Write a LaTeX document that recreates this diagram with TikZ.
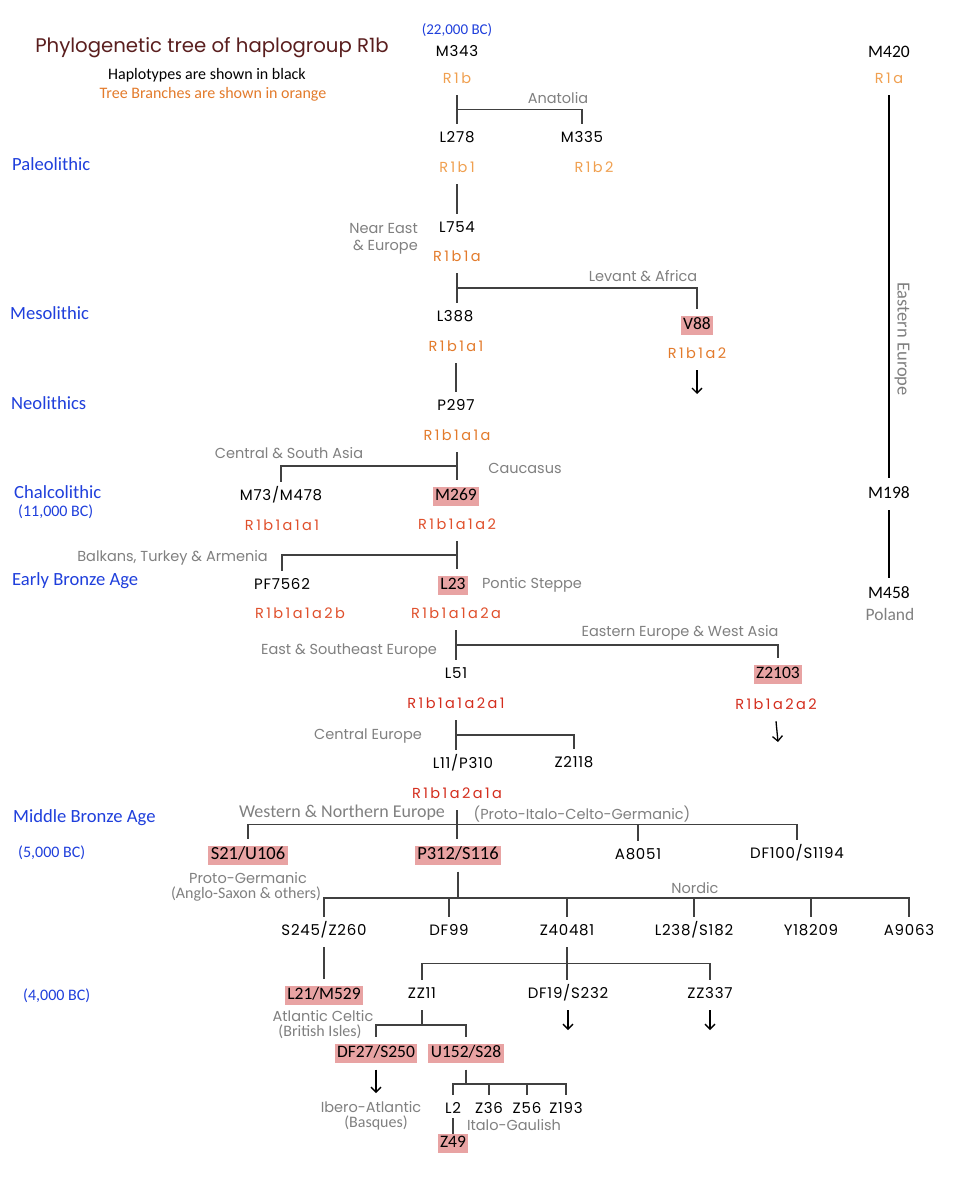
\documentclass[tikz,border=0pt]{standalone}
\usepackage{fontspec}
\setmainfont{Poppins}
\newfontfamily\calfont{Carlito}
\newfontfamily\gothfont{Poppins}
\newfontfamily\hapfont[LetterSpace=5]{Poppins}
\newfontfamily\branchfont[LetterSpace=17]{Poppins}
\usetikzlibrary{calc,arrows.meta}

\definecolor{heading}{HTML}{5A1E1E}
\definecolor{eraclr}{HTML}{1F3FDC}
\definecolor{orangeA}{HTML}{F0A050}
\definecolor{orangeB}{HTML}{E37B2C}
\definecolor{redA}{HTML}{E0502C}
\definecolor{redB}{HTML}{D42E1E}
\definecolor{regionclr}{HTML}{808080}
\definecolor{hilite}{HTML}{E8A3A3}
\definecolor{wire}{HTML}{404040}

\tikzset{
  hap/.style={font=\hapfont\fontsize{15}{17}\selectfont, text height=10pt, text depth=2.5pt, inner sep=1pt, outer sep=8pt},
  brn/.style={hap, font=\branchfont\fontsize{14.5}{17}\selectfont, text=orangeB},
  calhap/.style={hap, font=\calfont\fontsize{17.5}{19}\selectfont, text height=11.5pt, text depth=3pt},
  snp/.style={font=\calfont\fontsize{17.5}{19}\selectfont, fill=hilite, text height=11.5pt, text depth=3.5pt, inner xsep=2.5pt, inner ysep=2pt, outer sep=7pt},
  region/.style={font=\gothfont\fontsize{14.5}{17}\selectfont, text=regionclr, inner sep=1pt},
  regcal/.style={region, font=\calfont\fontsize{16}{18}\selectfont},
  era/.style={font=\calfont\fontsize{18.6}{20}\selectfont, text=eraclr, anchor=west, inner sep=0pt},
  date/.style={era, font=\calfont\fontsize{16}{18}\selectfont},
  keytext/.style={font=\calfont\fontsize{16}{18}\selectfont, inner sep=0pt},
  link/.style={draw=wire, line width=1.3pt},
  eline/.style={draw=black, line width=1.8pt},
  down/.style={draw=black, line width=1.3pt, -{Straight Barb[length=5pt,width=10pt]}},
}

\begin{document}
\begin{tikzpicture}[x=1pt,y=-1pt]
\fill[white] (0,0) rectangle (960,1190);
\useasboundingbox (0,0) rectangle (960,1190);

% heading and key
\node[font=\gothfont\fontsize{19.7}{22}\selectfont, text=heading] (head) at (212,48) {Phylogenetic tree of haplogroup R1b};
\node[keytext] (keyhap) at (207,75) {Haplotypes are shown in black};
\node[keytext, text=orangeB] (keybrn) at (213,94) {Tree Branches are shown in orange};

% periods
\node[era] (paleo) at (12,164) {Paleolithic};
\node[era] (meso) at (10,313) {Mesolithic};
\node[era] (neo) at (11,403) {Neolithics};
\node[era] (chalco) at (14,492) {Chalcolithic};
\node[date] (bc11) at (18,512) {(11,000 BC)};
\node[era] (eba) at (12,581) {Early Bronze Age};
\node[era] (mba) at (13,818) {Middle Bronze Age};
\node[date] (bc5) at (18,853) {(5,000 BC)};
\node[date] (bc4) at (23,996) {(4,000 BC)};

% R1b down to P297
\node[date, anchor=center, font=\calfont\fontsize{15}{17}\selectfont] (bc22) at (457,30) {(22,000 BC)};
\node[hap] (m343) at (457,53) {M343};
\node[brn, text=orangeA] (r1b) at (457,80) {R1b};
\node[region] (anat) at (558,98) {Anatolia};
\node[hap] (l278) at (457,139) {L278};
\node[hap] (m335) at (582,139) {M335};
\node[brn, text=orangeA] (r1b1) at (457,169) {R1b1};
\node[brn, text=orangeA] (r1b2) at (594,169) {R1b2};
\node[region, anchor=east, align=right] (neareu) at (419,239) {Near East\\\& Europe};
\node[hap] (l754) at (457,229) {L754};
\node[brn] (r1b1a) at (457,258) {R1b1a};
\node[region] (levant) at (643,276) {Levant \& Africa};
\node[hap] (l388) at (455,318) {L388};
\node[snp] (v88) at (697,325) {V88};
\node[brn] (r1b1a1) at (456,348) {R1b1a1};
\node[brn] (r1b1a2) at (697,355) {R1b1a2};
\coordinate (v88end) at (697,394);
\node[hap] (p297) at (456,407) {P297};

% M269 and L23
\node[brn] (r1b1a1a) at (457,437) {R1b1a1a};
\node[region] (asia) at (289,453) {Central \& South Asia};
\node[region] (caucasus) at (525,468) {Caucasus};
\node[hap] (m73) at (281,497) {M73/M478};
\node[snp] (m269) at (456,496) {M269};
\node[brn, text=redA] (r1b1a1a1) at (282,527) {R1b1a1a1};
\node[brn, text=redA] (r1b1a1a2) at (457,526) {R1b1a1a2};
\node[region, anchor=east] (balkans) at (269,558) {Balkans, Turkey \& Armenia};
\node[hap] (pf7562) at (282,586) {PF7562};
\node[snp] (l23) at (453,585) {L23};
\node[region] (pontic) at (532,585) {Pontic Steppe};
\node[brn, text=redA] (r1b1a1a2b) at (300,615) {R1b1a1a2b};
\node[brn, text=redA] (r1b1a1a2a) at (456,615) {R1b1a1a2a};

% L51 and Z2103
\node[region] (eeasia) at (680,633) {Eastern Europe \& West Asia};
\node[region] (esee) at (349,651) {East \& Southeast Europe};
\node[hap] (l51) at (456,675) {L51};
\node[snp] (z2103) at (778,674) {Z2103};
\node[brn, text=redB] (r1b1a1a2a1) at (456,705) {R1b1a1a2a1};
\node[brn, text=redB] (r1b1a2a2) at (776,706) {R1b1a2a2};
\coordinate (z2103end) at (778,742);
\node[region] (centeu) at (368,736) {Central Europe};
\node[hap] (l11) at (463,765) {L11/P310};
\node[hap] (z2118) at (574,764) {Z2118};

% P312 and U106
\node[brn, text=redB] (r1b1a2a1a) at (457,795) {R1b1a2a1a};
\node[regcal, font=\calfont\fontsize{18}{20}\selectfont] (wne) at (342,813) {Western \& Northern Europe};
\node[region] (pitc) at (582,814) {(Proto-Italo-Celto-Germanic)};
\node[snp, font=\calfont\fontsize{18.5}{20}\selectfont] (s21) at (248,855) {S21/U106};
\node[snp, font=\calfont\fontsize{18.5}{20}\selectfont] (p312) at (458,855) {P312/S116};
\node[hap] (a8051) at (638,856) {A8051};
\node[hap] (df100) at (797,855) {DF100/S1194};
\node[region] (protog) at (248,878) {Proto-Germanic};
\node[regcal] (anglo) at (246,894) {(Anglo-Saxon \& others)};
\node[region] (nordic) at (695,888) {Nordic};
\node[hap] (s245) at (324,932) {S245/Z260};
\node[hap] (df99) at (449,932) {DF99};
\node[hap] (z40481) at (567,932) {Z40481};
\node[hap] (l238) at (694,932) {L238/S182};
\node[hap] (y18209) at (811,932) {Y18209};
\node[hap] (a9063) at (909,932) {A9063};

% L21, ZZ11 and U152
\node[snp] (l21) at (324,995) {L21/M529};
\node[region] (atlantic) at (323,1016) {Atlantic Celtic};
\node[regcal] (british) at (320,1032) {(British Isles)};
\node[hap] (zz11) at (422,995) {ZZ11};
\node[hap] (df19) at (568,995) {DF19/S232};
\node[hap] (zz337) at (710,995) {ZZ337};
\coordinate (df19end) at (568,1030);
\coordinate (zz337end) at (710,1030);
\node[snp] (df27) at (376,1053) {DF27/S250};
\node[snp] (u152) at (466,1053) {U152/S28};
\coordinate (df27end) at (376,1093);
\node[region] (ibero) at (371,1107) {Ibero-Atlantic};
\node[regcal] (basques) at (376,1123) {(Basques)};
\node[hap] (l2) at (453,1110) {L2};
\node[hap] (z36) at (489,1110) {Z36};
\node[hap] (z56) at (527,1110) {Z56};
\node[hap] (z193) at (566,1110) {Z193};
\node[region] (italo) at (514,1125) {Italo-Gaulish};
\node[snp, outer sep=0pt] (z49) at (453,1143) {Z49};

% R1a column
\node[calhap] (m420) at (889,53) {M420};
\node[brn, text=orangeA] (r1a) at (889,80) {R1a};
\node[regcal, rotate=-90, font=\calfont\fontsize{18.5}{20}\selectfont] (eastlab) at (902,339) {Eastern Europe};
\node[calhap] (m198) at (889,494) {M198};
\node[calhap] (m458) at (889,594) {M458};
\node[regcal, font=\calfont\fontsize{17.5}{19}\selectfont] (poland) at (890,614) {Poland};

% branches
\draw[link] (r1b.south) -- (r1b.south |- l278.north);
\coordinate (anatbar) at ($(r1b.south)!.5!(r1b.south |- l278.north)$);
\draw[link] (anatbar) -| (m335.north);
\draw[link] (r1b1.south) -- (r1b1.south |- l754.north);

\draw[link] (r1b1a.south) -- (r1b1a.south |- l388.north);
\coordinate (levbar) at ($(r1b1a.south)!.5!(r1b1a.south |- l388.north)$);
\draw[link] (levbar) -| (v88.north);
\draw[down] (r1b1a2.south) -- (v88end);
\draw[link] (r1b1a1.south) -- (r1b1a1.south |- p297.north);

\draw[link] (r1b1a1a.south) -- (r1b1a1a.south |- m269.north);
\coordinate (asiabar) at ($(r1b1a1a.south)!.5!(r1b1a1a.south |- m269.north)$);
\draw[link] (asiabar) -| (m73.north);
\draw[link] (r1b1a1a2.south) -- (r1b1a1a2.south |- l23.north);
\coordinate (balkbar) at ($(r1b1a1a2.south)!.5!(r1b1a1a2.south |- l23.north)$);
\draw[link] (balkbar) -| (pf7562.north);

\draw[link] (r1b1a1a2a.south) -- (r1b1a1a2a.south |- l51.north);
\coordinate (eebar) at ($(r1b1a1a2a.south)!.5!(r1b1a1a2a.south |- l51.north)$);
\draw[link] (eebar) -| (z2103.north);
\draw[down] (r1b1a2a2.south) -- (z2103end);
\draw[link] (r1b1a1a2a1.south) -- (r1b1a1a2a1.south |- l11.north);
\coordinate (cebar) at ($(r1b1a1a2a1.south)!.5!(r1b1a1a2a1.south |- l11.north)$);
\draw[link] (cebar) -| (z2118.north);

\draw[link] (r1b1a2a1a.south) -- (r1b1a2a1a.south |- p312.north);
\coordinate (wnebar) at ($(r1b1a2a1a.south)!.5!(r1b1a2a1a.south |- p312.north)$);
\draw[link] (s21.north) |- (wnebar) -| (df100.north);
\draw[link] (wnebar -| a8051.north) -- (a8051.north);

\coordinate (nordbar) at (p312.south |- 0,898);
\draw[link] (p312.south) -- (nordbar);
\draw[link] (s245.north) |- (nordbar) -| (a9063.north);
\foreach \n in {df99,z40481,l238,y18209}
  \draw[link] (nordbar -| \n.north) -- (\n.north);

\draw[link] (s245.south) -- (s245.south |- l21.north);
\draw[link] (z40481.south) -- (z40481.south |- df19.north);
\coordinate (zzbar) at ($(z40481.south)!.5!(z40481.south |- df19.north)$);
\draw[link] (zz11.north) |- (zzbar) -| (zz337.north);
\draw[down] (df19.south) -- (df19end);
\draw[down] (zz337.south) -- (zz337end);

\coordinate (celtbar) at (zz11.south |- 0,1025);
\draw[link] (zz11.south) -- (celtbar);
\draw[link] (df27.north) |- (celtbar) -| (u152.north);
\draw[down] (df27.south) -- (df27end);

\coordinate (gaulbar) at (u152.south |- 0,1084);
\draw[link] (u152.south) -- (gaulbar);
\draw[link] (l2.north) |- (gaulbar) -| (z193.north);
\foreach \n in {z36,z56}
  \draw[link] (gaulbar -| \n.north) -- (\n.north);
\draw[link, shorten <=-7pt] (l2.south) -- (z49.north);

\draw[eline] (r1a.south) -- (m198.north);
\draw[eline] (m198.south) -- (m458.north);
\end{tikzpicture}
\end{document}
